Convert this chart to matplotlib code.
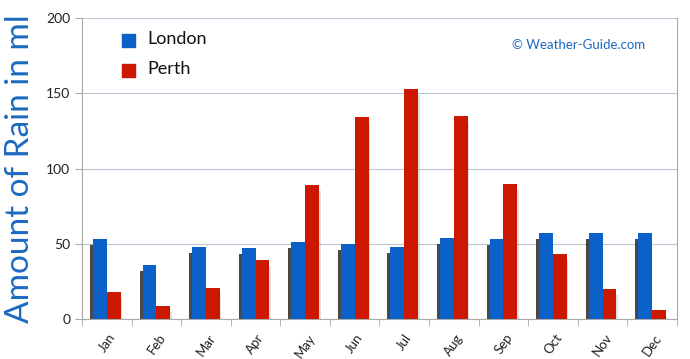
import matplotlib.pyplot as plt
import numpy as np

months = ["Jan", "Feb", "Mar", "Apr", "May", "Jun", "Jul", "Aug", "Sep", "Oct", "Nov", "Dec"]
london = [53, 36, 48, 47, 51, 50, 48, 54, 53, 57, 57, 57]
perth = [18, 9, 21, 39, 89, 134, 153, 135, 90, 43, 20, 6]

blue = "#0a62c8"
red = "#cc1800"

plt.rcParams['font.family'] = ['Lato', 'DejaVu Sans']

fig = plt.figure(figsize=(6.9, 3.59), dpi=100)
ax = fig.add_axes([0.119, 0.111, 0.862, 0.839])

x = np.arange(len(months))
w = 0.28

# shadows
ax.bar(x - w / 2 - 0.06, np.array(london) - 4, w, color="#1a1a1a", alpha=0.8, zorder=2)
ax.bar(x + w / 2 + 0.03, np.array(perth) - 4, w, color="#999999", alpha=0.3, zorder=2)

ax.bar(x - w / 2, london, w, color=blue, zorder=3)
ax.bar(x + w / 2, perth, w, color=red, zorder=3)

ax.set_xlim(-0.5, 11.5)
ax.set_ylim(0, 200)
ax.set_yticks([0, 50, 100, 150, 200])
ax.yaxis.grid(True, color="#b8c8d8", linewidth=0.8, zorder=0)
ax.set_axisbelow(True)

ax.set_xticks(x)
ax.set_xticklabels(months, rotation=55, fontsize=9.5, color="#222222")
ax.set_xticks(np.arange(-0.5, 12, 1), minor=True)
ax.tick_params(axis="x", which="major", length=0, pad=9)
ax.tick_params(axis="x", which="minor", length=5, color="#aaaaaa")
ax.tick_params(axis="y", length=5, color="#aaaaaa", labelsize=10, labelcolor="#222222")

for s in ["left", "bottom", "right"]:
    ax.spines[s].set_color("#aaaaaa")
ax.spines["top"].set_visible(False)

ax.set_ylabel("Amount of Rain in ml", fontsize=24, color="#1a6ac0", labelpad=8)

# legend
fig.patches.append(plt.Rectangle((122 / 690, 1 - 47 / 359), 13 / 690, 13 / 359,
                                 transform=fig.transFigure, color=blue))
fig.patches.append(plt.Rectangle((122 / 690, 1 - 77 / 359), 13 / 690, 13 / 359,
                                 transform=fig.transFigure, color=red))
fig.text(147 / 690, 1 - 39 / 359, "London", fontsize=13, va="center", color="#111111")
fig.text(147 / 690, 1 - 69 / 359, "Perth", fontsize=13, va="center", color="#111111")

fig.text(512 / 690, 1 - 45 / 359, "© Weather-Guide.com", fontsize=9.5, va="center", color="#1a6ac0")

fig.savefig("out.png", dpi=100)
